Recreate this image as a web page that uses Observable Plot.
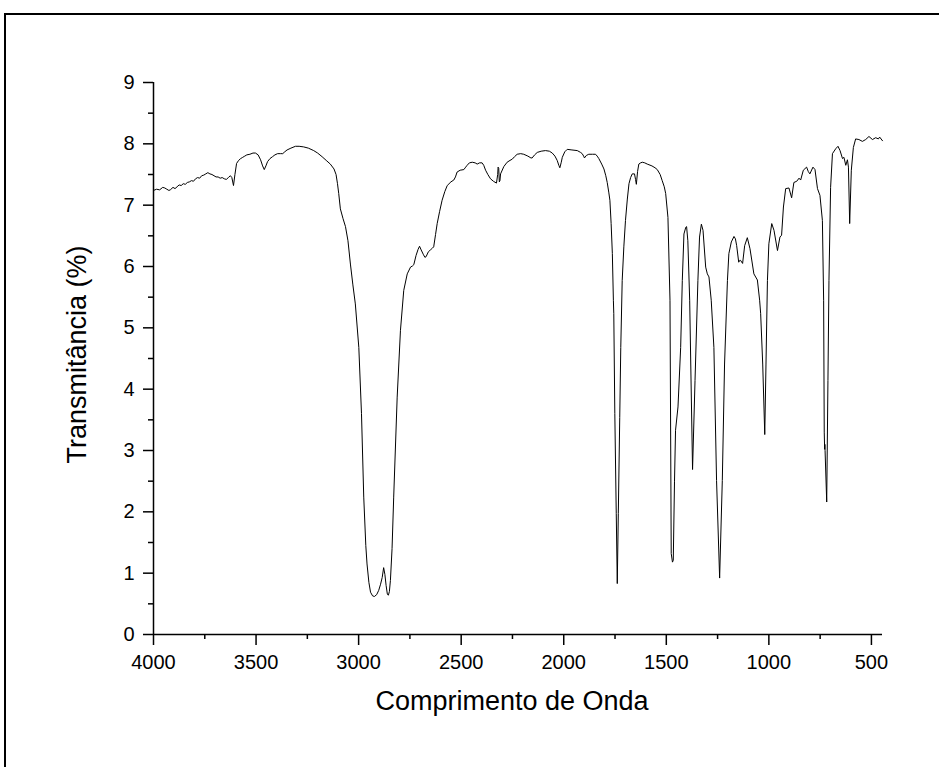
<!DOCTYPE html>
<html>
<head>
<meta charset="utf-8">
<script src="https://cdn.jsdelivr.net/npm/d3@7"></script>
<script src="https://cdn.jsdelivr.net/npm/@observablehq/plot@0.6"></script>
<style>
  html, body { margin: 0; padding: 0; background: white; overflow: hidden; }
  #wrap { position: relative; width: 939px; height: 767px; overflow: hidden; }
  #frame { position: absolute; left: 4px; top: 13px; width: 1200px; height: 1200px;
           border-left: 2px solid black; border-top: 2px solid black; pointer-events: none; }
  #chart { position: absolute; left: 0; top: 0; }
</style>
</head>
<body>
<div id="wrap"><div id="chart"></div><div id="frame"></div></div>
<script>
// Wavenumber (cm-1) and transmittance (%)
const wavenumber = [
 4000,3985,3970,3955,3945,3935,3925,3918,3905,3895,3885,3875,3865,3855,3845,3835,3825,3815,3805,3795,
 3785,3775,3765,3755,3745,3735,3725,3715,3705,3695,3685,3675,3665,3655,3645,3635,3625,3618,3610,3603,
 3595,3585,3575,3565,3555,3545,3530,3515,3503,3490,3478,3468,3460,3452,3444,3432,3420,3408,3395,3380,
 3370,3360,3349,3330,3308,3290,3268,3245,3219,3200,3178,3158,3138,3120,3110,3103,3097,3089,3076,3064,
 3052,3040,3028,3016,2999,2986,2975,2965,2959,2950,2942,2932,2923,2912,2902,2893,2885,2878,2872,2866,
 2860,2855,2850,2845,2837,2829,2812,2796,2780,2763,2747,2737,2731,2720,2710,2703,2695,2685,2677,2671,
 2660,2650,2640,2634,2625,2617,2605,2593,2580,2568,2550,2536,2528,2520,2505,2487,2478,2471,2460,2446,
 2432,2422,2410,2398,2390,2381,2370,2357,2343,2328,2322,2320,2317,2314,2311,2308,2292,2276,2262,2251,
 2240,2227,2210,2195,2175,2160,2154,2142,2129,2110,2089,2070,2056,2043,2032,2024,2019,2012,2007,1995,
 1983,1960,1934,1918,1910,1903,1899,1890,1878,1860,1845,1837,1829,1815,1804,1795,1788,1780,1775,1769,
 1763,1758,1756,1751,1744,1739,1734,1727,1722,1715,1707,1699,1690,1682,1674,1666,1655,1650,1646,1640,
 1634,1625,1617,1605,1593,1570,1555,1544,1530,1520,1510,1503,1492,1482,1476,1470,1466,1460,1455,1443,
 1430,1422,1414,1405,1401,1395,1386,1372,1360,1346,1338,1329,1321,1308,1300,1292,1281,1268,1255,1240,
 1227,1216,1202,1195,1183,1170,1163,1157,1147,1142,1138,1128,1118,1105,1092,1073,1056,1045,1040,1030,
 1020,1014,1007,1000,986,975,958,946,938,929,918,902,889,878,864,853,845,832,816,808,
 800,785,775,763,751,739,733,730,728,727,726,718,712,707,699,690,674,663,653,641,
 634,625,617,612,606,598,588,577,561,544,528,512,495,479,466,460,446
];
const transmittance = [
 7.24,7.26,7.25,7.29,7.28,7.26,7.24,7.25,7.29,7.27,7.30,7.33,7.32,7.35,7.34,7.37,7.38,7.40,7.39,7.43,
 7.45,7.44,7.48,7.49,7.51,7.53,7.51,7.50,7.48,7.46,7.46,7.44,7.45,7.43,7.42,7.45,7.48,7.45,7.32,7.50,
 7.68,7.73,7.76,7.78,7.80,7.82,7.83,7.85,7.85,7.82,7.74,7.64,7.58,7.64,7.71,7.76,7.79,7.82,7.84,7.84,
 7.84,7.87,7.90,7.93,7.96,7.96,7.95,7.93,7.89,7.85,7.79,7.73,7.67,7.59,7.50,7.35,7.19,6.94,6.78,6.65,
 6.42,6.04,5.70,5.39,4.68,3.60,2.24,1.45,1.15,0.85,0.69,0.63,0.62,0.65,0.72,0.82,0.93,1.09,0.98,0.80,
 0.66,0.64,0.70,0.88,1.40,2.24,3.87,4.96,5.61,5.88,5.99,6.01,6.03,6.18,6.28,6.33,6.27,6.20,6.15,6.16,
 6.24,6.27,6.30,6.32,6.52,6.70,6.90,7.08,7.22,7.32,7.38,7.41,7.46,7.54,7.57,7.58,7.62,7.65,7.69,7.70,
 7.69,7.67,7.69,7.69,7.65,7.57,7.50,7.43,7.39,7.36,7.50,7.62,7.60,7.38,7.40,7.51,7.63,7.70,7.73,7.75,
 7.79,7.83,7.84,7.83,7.80,7.77,7.77,7.82,7.86,7.88,7.89,7.88,7.85,7.80,7.73,7.65,7.61,7.70,7.78,7.87,
 7.91,7.90,7.89,7.86,7.84,7.80,7.77,7.81,7.83,7.83,7.83,7.80,7.76,7.67,7.59,7.48,7.37,7.20,7.08,6.70,
 6.21,5.45,5.23,3.60,1.97,0.83,1.97,3.54,4.68,5.77,6.32,6.75,7.10,7.35,7.45,7.51,7.51,7.42,7.34,7.55,
 7.67,7.69,7.70,7.69,7.67,7.64,7.61,7.58,7.50,7.40,7.30,7.19,6.80,5.45,1.32,1.18,1.21,2.50,3.33,3.71,
 4.68,5.77,6.53,6.64,6.65,6.42,5.45,2.69,4.14,5.77,6.48,6.69,6.59,5.99,5.88,5.83,5.45,4.68,2.51,0.92,
 2.51,4.41,5.77,6.21,6.40,6.49,6.45,6.34,6.07,6.10,6.10,6.05,6.34,6.47,6.29,5.88,5.78,5.45,5.23,4.41,
 3.26,4.41,5.77,6.37,6.70,6.59,6.26,6.48,6.51,6.97,7.27,7.28,7.12,7.37,7.39,7.44,7.41,7.57,7.62,7.55,
 7.51,7.62,7.58,7.27,7.16,6.75,5.45,3.30,3.02,3.10,3.00,2.16,4.14,5.77,7.29,7.84,7.92,7.96,7.89,7.76,
 7.78,7.65,7.74,7.62,6.70,7.57,7.94,8.08,8.07,8.04,8.07,8.12,8.07,8.10,8.08,8.11,8.05
];
const xMajorTicks = [4000,3500,3000,2500,2000,1500,1000,500];
const xMinorTicks = [3750,3250,2750,2250,1750,1250,750];
const yMajorTicks = [0,1,2,3,4,5,6,7,8,9];
const yMinorTicks = [0.5,1.5,2.5,3.5,4.5,5.5,6.5,7.5,8.5];
const xLabel = "Comprimento de Onda";
const yLabel = "Transmitância (%)";

const data = wavenumber.map((w, i) => ({w, t: transmittance[i]}));

const chart = Plot.plot({
  width: 939,
  height: 767,
  marginLeft: 153,
  marginRight: 57,
  marginTop: 82,
  marginBottom: 133,
  style: {fontFamily: "'Liberation Sans', Arial, sans-serif", fontSize: "20px", color: "black", background: "transparent"},
  x: {domain: [4000, 446]},
  y: {domain: [0, 9]},
  marks: [
    Plot.axisY({ticks: yMajorTicks, tickSize: 10, tickPadding: 9, strokeWidth: 1.5, label: null, fontSize: 20, tickFormat: d => String(d)}),
    Plot.axisY({ticks: yMinorTicks, tickSize: 5, tickFormat: () => "", strokeWidth: 1.5, label: null}),
    Plot.axisX({ticks: xMajorTicks, tickSize: 11, tickPadding: 9, strokeWidth: 1.5, label: null, fontSize: 20, tickFormat: d => String(d)}),
    Plot.axisX({ticks: xMinorTicks, tickSize: 5, tickFormat: () => "", strokeWidth: 1.5, label: null}),
    Plot.ruleX([4000], {y1: 0, y2: 9, strokeWidth: 1.5}),
    Plot.ruleY([0], {x1: 4000, x2: 446, strokeWidth: 1.5}),
    Plot.line(data, {x: "w", y: "t", stroke: "black", strokeWidth: 1}),
    Plot.text([xLabel], {frameAnchor: "bottom", textAnchor: "middle", lineAnchor: "middle", dy: 67, dx: -6, fontSize: 27}),
    Plot.text([yLabel], {frameAnchor: "left", textAnchor: "middle", lineAnchor: "middle", dx: -76, dy: -4, rotate: -90, fontSize: 27})
  ]
});
document.getElementById("chart").appendChild(chart);
</script>
</body>
</html>
